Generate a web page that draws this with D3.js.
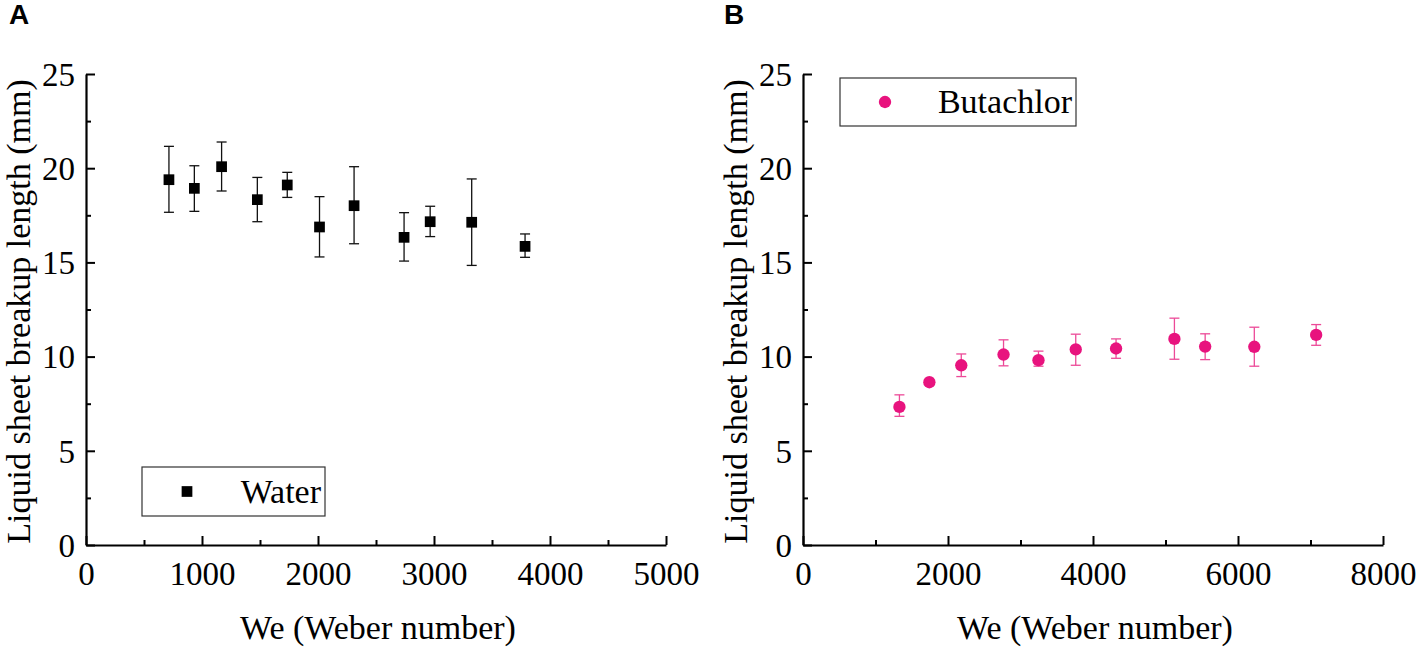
<!DOCTYPE html>
<html>
<head>
<meta charset="utf-8">
<script src="https://cdn.jsdelivr.net/npm/d3@7/dist/d3.min.js"></script>
<style>
  html, body { margin: 0; padding: 0; background: #fff; }
  svg { display: block; }
  text { font-family: "Liberation Serif", "Times New Roman", serif; fill: #000; }
</style>
</head>
<body>
<svg id="chart" width="1417" height="651"></svg>
<script>
// ---- Data ----
const waterWe    = [715, 934, 1169, 1477, 1735, 2013, 2311, 2742, 2967, 3325, 3785];
const waterLen   = [19.39, 18.93, 20.08, 18.33, 19.11, 16.88, 18.01, 16.33, 17.16, 17.13, 15.85];
const waterHigh  = [21.16, 20.13, 21.39, 19.51, 19.78, 18.49, 20.08, 17.64, 17.98, 19.43, 16.51];
const waterLow   = [17.66, 17.71, 18.79, 17.16, 18.45, 15.29, 15.99, 15.07, 16.37, 14.84, 15.27];

const butaWe     = [1330, 1743, 2183, 2766, 3248, 3762, 4318, 5123, 5547, 6225, 7078];
const butaLen    = [7.33, 8.64, 9.54, 10.11, 9.81, 10.38, 10.43, 10.94, 10.53, 10.52, 11.15];
const butaHigh   = [7.97, 8.64, 10.14, 10.89, 10.29, 11.19, 10.94, 12.04, 11.21, 11.56, 11.70];
const butaLow    = [6.83, 8.64, 8.94, 9.51, 9.49, 9.54, 9.91, 9.86, 9.84, 9.49, 10.60];

const yTicks      = [0, 5, 10, 15, 20, 25];
const yMinorTicks = [2.5, 7.5, 12.5, 17.5, 22.5];
const xTicksA      = [0, 1000, 2000, 3000, 4000, 5000];
const xMinorTicksA = [500, 1500, 2500, 3500, 4500];
const xTicksB      = [0, 2000, 4000, 6000, 8000];
const xMinorTicksB = [1000, 3000, 5000, 7000];

const xTitle = "We (Weber number)";
const yTitle = "Liquid sheet breakup length (mm)";

const svg = d3.select("#chart");
const PINK = "#E8137E";

function panel(opts) {
  const x = d3.scaleLinear().domain(opts.xDomain).range([opts.left, opts.right]);
  const y = d3.scaleLinear().domain([0, 25]).range([opts.bottom, opts.top]);
  const g = svg.append("g");

  // minor ticks
  g.append("g").attr("transform", `translate(0,${opts.bottom})`)
    .call(d3.axisBottom(x).tickValues(opts.xMinor).tickFormat("").tickSizeInner(-5).tickSizeOuter(0))
    .call(s => s.select(".domain").remove())
    .call(s => s.selectAll("line").attr("stroke-width", 2));
  g.append("g").attr("transform", `translate(${opts.left},0)`)
    .call(d3.axisLeft(y).tickValues(yMinorTicks).tickFormat("").tickSizeInner(-5).tickSizeOuter(0))
    .call(s => s.select(".domain").remove())
    .call(s => s.selectAll("line").attr("stroke-width", 2));

  // major axes
  const xa = g.append("g").attr("transform", `translate(0,${opts.bottom})`)
    .call(d3.axisBottom(x).tickValues(opts.xTicks).tickFormat(d3.format("d")).tickSizeInner(-9).tickSizeOuter(0).tickPadding(17));
  const ya = g.append("g").attr("transform", `translate(${opts.left},0)`)
    .call(d3.axisLeft(y).tickValues(yTicks).tickFormat(d3.format("d")).tickSizeInner(-9).tickSizeOuter(0).tickPadding(11));
  [xa, ya].forEach(a => {
    a.select(".domain").attr("stroke-width", 2.2).attr("stroke", "#000");
    a.selectAll("line").attr("stroke-width", 2).attr("stroke", "#000");
    a.selectAll("text").style("font-family", '"Liberation Serif", serif').style("font-size", "33px").attr("fill", "#000");
  });
  xa.selectAll("text").attr("dy", "0.71em");
  ya.selectAll("text").attr("dy", "0.34em");

  // titles
  g.append("text")
    .attr("x", (opts.left + opts.right) / 2 + 2).attr("y", 639)
    .attr("text-anchor", "middle").style("font-size", "34px").text(xTitle);
  g.append("text")
    .attr("transform", `translate(${opts.left - 56},${(opts.top + opts.bottom) / 2 + 2}) rotate(-90)`)
    .attr("text-anchor", "middle").style("font-size", "34px").text(yTitle);

  // panel letter
  g.append("text").attr("x", opts.letterX).attr("y", 24)
    .style("font-family", '"Liberation Sans", Arial, sans-serif')
    .style("font-weight", "bold").style("font-size", "28px").text(opts.letter);

  // error bars
  const n = opts.xs.length;
  const idx = d3.range(n);
  const eg = g.append("g").attr("stroke", opts.errColor).attr("stroke-width", 1.3);
  idx.forEach(i => {
    if (opts.hi[i] === opts.lo[i]) return;
    const cx = x(opts.xs[i]);
    eg.append("line").attr("x1", cx).attr("x2", cx).attr("y1", y(opts.hi[i])).attr("y2", y(opts.lo[i]));
    eg.append("line").attr("x1", cx - 5).attr("x2", cx + 5).attr("y1", y(opts.hi[i])).attr("y2", y(opts.hi[i]));
    eg.append("line").attr("x1", cx - 5).attr("x2", cx + 5).attr("y1", y(opts.lo[i])).attr("y2", y(opts.lo[i]));
  });

  // markers
  const sym = d3.symbol().type(opts.symbol).size(opts.symSize);
  g.append("g").selectAll("path").data(idx).join("path")
    .attr("transform", i => `translate(${x(opts.xs[i])},${y(opts.ys[i])})`)
    .attr("d", sym).attr("fill", opts.color);

  // legend
  const L = opts.legend;
  g.append("rect").attr("x", L.x).attr("y", L.y).attr("width", L.w).attr("height", L.h)
    .attr("fill", "#fff").attr("stroke", "#333").attr("stroke-width", 1.2);
  g.append("path").attr("transform", `translate(${L.x + 45},${L.y + L.h / 2})`)
    .attr("d", sym).attr("fill", opts.color);
  g.append("text").attr("x", L.x + L.w - 4).attr("y", L.y + L.h / 2 + 11)
    .attr("text-anchor", "end").style("font-size", "34px").text(opts.name);
}

panel({
  letter: "A", letterX: 9,
  left: 86, right: 666, top: 74, bottom: 545,
  xDomain: [0, 5000], xTicks: xTicksA, xMinor: xMinorTicksA,
  xs: waterWe, ys: waterLen, hi: waterHigh, lo: waterLow,
  color: "#000", errColor: "#111", symbol: d3.symbolSquare, symSize: 115,
  name: "Water",
  legend: { x: 142, y: 467, w: 183, h: 49 }
});

panel({
  letter: "B", letterX: 724,
  left: 803, right: 1383, top: 74, bottom: 545,
  xDomain: [0, 8000], xTicks: xTicksB, xMinor: xMinorTicksB,
  xs: butaWe, ys: butaLen, hi: butaHigh, lo: butaLow,
  color: PINK, errColor: "#EC4A98", symbol: d3.symbolCircle, symSize: 120,
  name: "Butachlor",
  legend: { x: 840, y: 78, w: 236, h: 48 }
});
</script>
</body>
</html>
